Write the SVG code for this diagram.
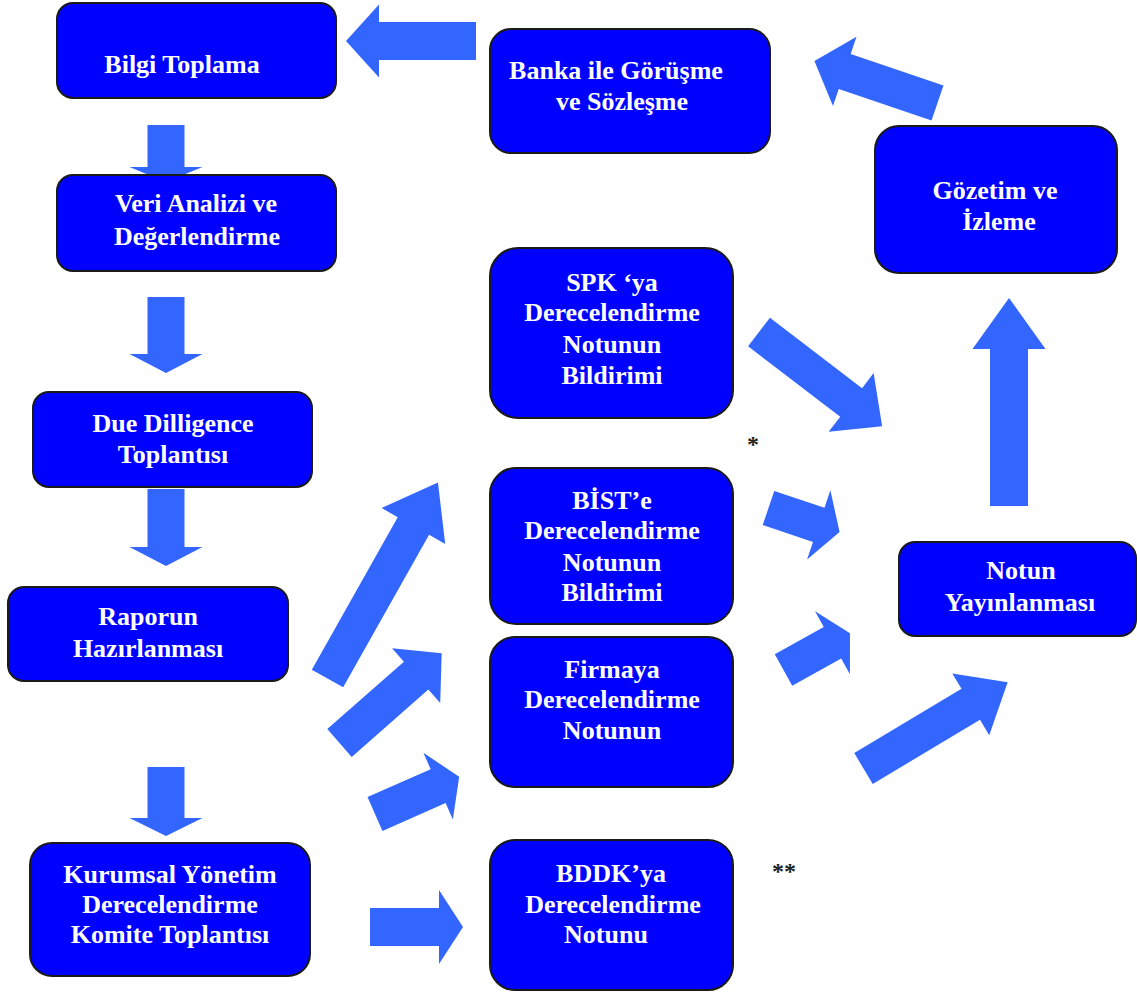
<svg xmlns="http://www.w3.org/2000/svg" width="1137" height="994" viewBox="0 0 1137 994">
<style>
.box{fill:#0000FF;stroke:#1a1a1a;stroke-width:2}
.t{font-family:"Liberation Serif","Times New Roman",serif;font-weight:bold;font-size:26px;fill:#FFFFFF;text-anchor:middle}
.arr{fill:#3366FF}
.ast{font-family:"Liberation Serif","Times New Roman",serif;font-weight:bold;font-size:24px;fill:#222222;text-anchor:middle}
</style>
<rect width="1137" height="994" fill="#FFFFFF"/>
<g id="connectors">
<polygon class="arr" points="0,-19 97,-19 97,-36.5 130,0 97,36.5 97,19 0,19" transform="translate(476,41) rotate(180)"/>
<polygon class="arr" points="0,-18.5 42,-18.5 42,-36.5 57,0 42,36.5 42,18.5 0,18.5" transform="translate(166,125) rotate(90)"/>
<polygon class="arr" points="0,-18.5 57,-18.5 57,-36.5 76,0 57,36.5 57,18.5 0,18.5" transform="translate(166,297) rotate(90)"/>
<polygon class="arr" points="0,-18.5 58,-18.5 58,-36.5 77,0 58,36.5 58,18.5 0,18.5" transform="translate(166,489) rotate(90)"/>
<polygon class="arr" points="0,-18.5 51,-18.5 51,-36.5 69,0 51,36.5 51,18.5 0,18.5" transform="translate(166,767) rotate(90)"/>
<polygon class="arr" points="0,-19 69,-19 69,-37 93,0 69,37 69,19 0,19" transform="translate(370,927)"/>
<polygon class="arr" points="0,-18.5 69,-18.5 69,-36.5 92,0 69,36.5 69,18.5 0,18.5" transform="translate(375,814) rotate(-23.8)"/>
<polygon class="arr" points="0,-18.5 102,-18.5 102,-36.5 136,0 102,36.5 102,18.5 0,18.5" transform="translate(339.5,743) rotate(-41.3)"/>
<polygon class="arr" points="0,-18 175,-18 175,-36.5 225,0 175,36.5 175,18 0,18" transform="translate(327.5,678.5) rotate(-60.6)"/>
<polygon class="arr" points="0,-18 116,-18 116,-37 155,0 116,37 116,18 0,18" transform="translate(759,332) rotate(37.4)"/>
<polygon class="arr" points="0,-18 53,-18 53,-36.5 75,0 53,36.5 53,18 0,18" transform="translate(768.5,508) rotate(18.6)"/>
<polygon class="arr" points="0,-18 56,-18 56,-36 76,0 56,36 56,18 0,18" transform="translate(783.5,670) rotate(-29)"/>
<polygon class="arr" points="0,-18 125,-18 125,-36 168,0 125,36 125,18 0,18" transform="translate(863.5,768.5) rotate(-30.9)"/>
<polygon class="arr" points="0,-19 157,-19 157,-36.5 208,0 157,36.5 157,19 0,19" transform="translate(1009,506) rotate(-90)"/>
<polygon class="arr" points="0,-18.5 98,-18.5 98,-36.5 130,0 98,36.5 98,18.5 0,18.5" transform="translate(937.5,103) rotate(-161.2)"/>
</g>
<g id="bilgi-toplama">
<rect class="box" x="57" y="3" width="279" height="95" rx="16"/>
<text class="t" x="182" y="73">Bilgi Toplama</text>
</g>
<g id="veri-analizi">
<rect class="box" x="57" y="175" width="279" height="96" rx="16"/>
<text class="t" x="196" y="212">Veri Analizi ve</text>
<text class="t" x="197" y="245">Değerlendirme</text>
</g>
<g id="due-dilligence">
<rect class="box" x="33" y="392" width="279" height="95" rx="16"/>
<text class="t" x="173" y="432">Due Dilligence</text>
<text class="t" x="173" y="463">Toplantısı</text>
</g>
<g id="raporun">
<rect class="box" x="8" y="587" width="280" height="94" rx="16"/>
<text class="t" x="148" y="625">Raporun</text>
<text class="t" x="148" y="657">Hazırlanması</text>
</g>
<g id="kurumsal">
<rect class="box" x="30" y="843" width="280" height="133" rx="22"/>
<text class="t" x="170" y="883">Kurumsal Yönetim</text>
<text class="t" x="170" y="913">Derecelendirme</text>
<text class="t" x="170" y="943">Komite Toplantısı</text>
</g>
<g id="banka">
<rect class="box" x="490" y="29" width="280" height="124" rx="21"/>
<text class="t" x="616" y="79">Banka ile Görüşme</text>
<text class="t" x="622" y="110">ve Sözleşme</text>
</g>
<g id="gozetim">
<rect class="box" x="875" y="126" width="242" height="147" rx="24"/>
<text class="t" x="995" y="199">Gözetim ve</text>
<text class="t" x="999" y="230">İzleme</text>
</g>
<g id="spk">
<rect class="box" x="490" y="248" width="243" height="170" rx="28"/>
<text class="t" x="612" y="291">SPK ‘ya</text>
<text class="t" x="612" y="321">Derecelendirme</text>
<text class="t" x="612" y="353">Notunun</text>
<text class="t" x="612" y="384">Bildirimi</text>
</g>
<g id="bist">
<rect class="box" x="490" y="468" width="243" height="156" rx="26"/>
<text class="t" x="612" y="509">BİST’e</text>
<text class="t" x="612" y="539">Derecelendirme</text>
<text class="t" x="612" y="571">Notunun</text>
<text class="t" x="612" y="601">Bildirimi</text>
</g>
<g id="firmaya">
<rect class="box" x="490" y="637" width="243" height="150" rx="25"/>
<text class="t" x="612" y="678">Firmaya</text>
<text class="t" x="612" y="708">Derecelendirme</text>
<text class="t" x="612" y="739">Notunun</text>
</g>
<g id="bddk">
<rect class="box" x="490" y="840" width="243" height="150" rx="25"/>
<text class="t" x="611" y="882">BDDK’ya</text>
<text class="t" x="613" y="913">Derecelendirme</text>
<text class="t" x="606" y="943">Notunu</text>
</g>
<g id="notun">
<rect class="box" x="899" y="542" width="237" height="94" rx="16"/>
<text class="t" x="1021" y="579">Notun</text>
<text class="t" x="1020" y="611">Yayınlanması</text>
</g>
<g id="notes">
<text class="ast" x="753" y="452">*</text>
<text class="ast" x="784" y="879">**</text>
</g>
</svg>
